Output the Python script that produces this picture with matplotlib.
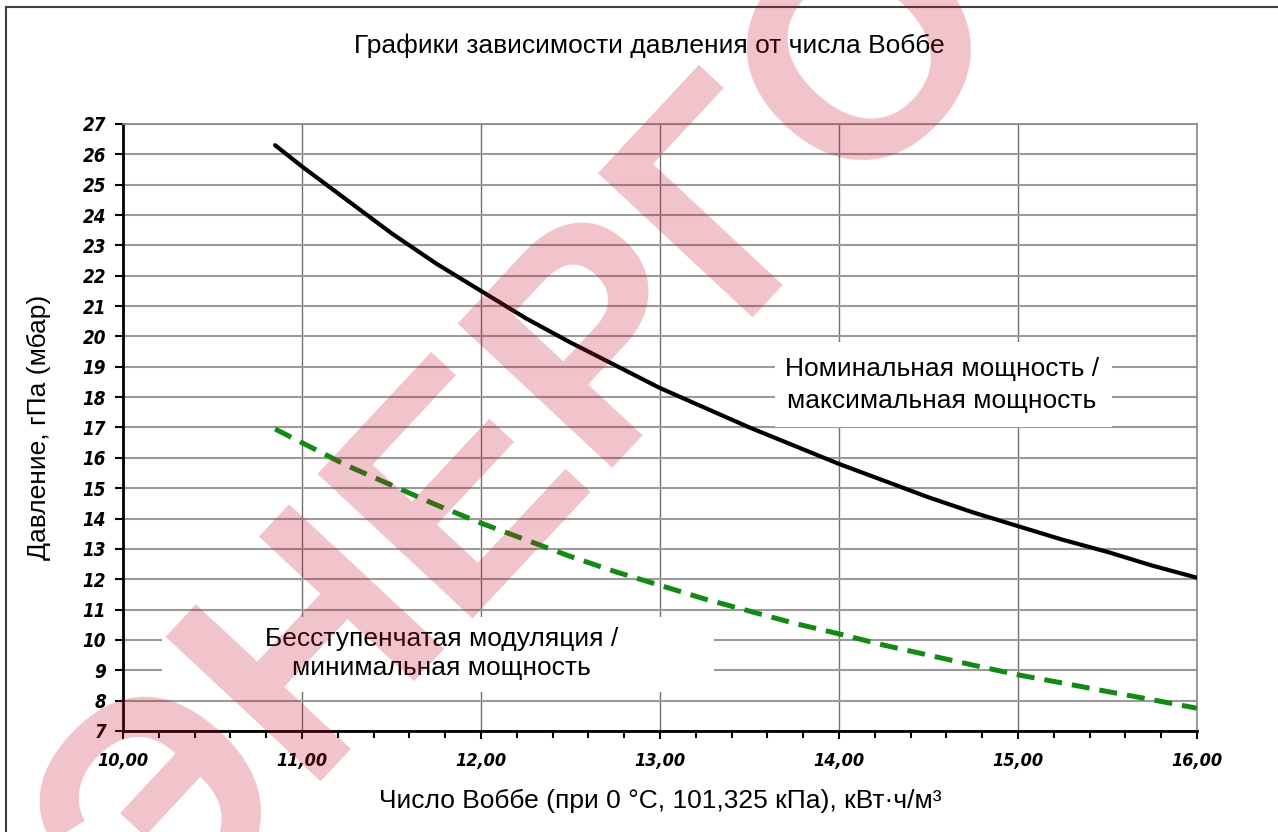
import matplotlib
matplotlib.use('Agg')
import matplotlib.pyplot as plt
from matplotlib.patches import Rectangle
from matplotlib.lines import Line2D
from matplotlib.ticker import MultipleLocator, FuncFormatter

# Wobbe number, kWh/m3
wobbe = [10.85, 11.0, 11.25, 11.5, 11.75, 12.0, 12.25, 12.5, 12.75, 13.0, 13.25,
         13.5, 13.75, 14.0, 14.25, 14.5, 14.75, 15.0, 15.25, 15.5, 15.75, 16.0]
# nominal / maximum power, hPa
p_max = [26.3, 25.6, 24.5, 23.4, 22.4, 21.5, 20.6, 19.8, 19.05, 18.3, 17.65,
         17.0, 16.4, 15.8, 15.25, 14.7, 14.2, 13.75, 13.3, 12.9, 12.45, 12.05]
# stepless modulation / minimum power, hPa
p_min = [16.95, 16.5, 15.75, 15.1, 14.45, 13.85, 13.3, 12.75, 12.25, 11.8, 11.35,
         10.95, 10.55, 10.2, 9.83, 9.5, 9.17, 8.85, 8.58, 8.3, 8.03, 7.75]

label_max = "Номинальная мощность /\nмаксимальная мощность"
label_min = "Бесступенчатая модуляция /\nминимальная мощность"

plt.rcParams['font.family'] = ['Liberation Sans', 'DejaVu Sans']

fig = plt.figure(figsize=(12.78, 8.32), dpi=100)
ax = fig.add_axes([0.0962, 0.1214, 0.8404, 0.7296])

ax.plot(wobbe, p_max, color='black', lw=3, solid_capstyle='round', zorder=4)
ax.plot(wobbe, p_min, color='#138a13', lw=3.6, dashes=(3.6, 2.0), zorder=4)

ax.set_xlim(10, 16)
ax.set_ylim(7, 27)
ax.xaxis.set_major_locator(MultipleLocator(1))
ax.xaxis.set_minor_locator(MultipleLocator(0.2))
ax.yaxis.set_major_locator(MultipleLocator(1))
ax.xaxis.set_major_formatter(FuncFormatter(lambda v, p: f"{v:.2f}".replace('.', ',')))
ax.yaxis.grid(True, which='major', color='#9a9a9a', lw=1.5, zorder=1)
ax.xaxis.grid(True, which='major', color='#707070', lw=1.0, zorder=1)
ax.set_axisbelow(True)

for s in ['top', 'right']:
    ax.spines[s].set_color('#8a8a8a')
    ax.spines[s].set_linewidth(1.2)
for s in ['left', 'bottom']:
    ax.spines[s].set_color('black')
    ax.spines[s].set_linewidth(2)

ax.tick_params(axis='both', which='major', direction='out', length=6, width=1.5, color='black')
ax.tick_params(axis='x', which='minor', direction='out', length=5, width=1.5, color='black')
for lab in ax.get_xticklabels():
    lab.set_family('DejaVu Sans')
    lab.set_stretch('condensed')
    lab.set_weight('bold')
    lab.set_style('italic')
    lab.set_fontsize(13)
for lab in ax.get_yticklabels():
    lab.set_family('DejaVu Sans')
    lab.set_stretch('condensed')
    lab.set_weight('bold')
    lab.set_style('italic')
    lab.set_fontsize(13.5)
ax.tick_params(axis='x', pad=9)
ax.tick_params(axis='y', pad=6)

# white label boxes over the grid
ax.add_patch(Rectangle((13.64, 17.0), 1.885, 2.8, facecolor='white', edgecolor='none', zorder=2))
ax.add_patch(Rectangle((10.22, 8.3), 3.08, 2.45, facecolor='white', edgecolor='none', zorder=2))
ax.text(14.575, 18.4, label_max, ha='center', va='center', fontsize=19,
        linespacing=1.4, zorder=3)
ax.text(11.78, 9.55, label_min, ha='center', va='center', fontsize=19,
        linespacing=1.3, zorder=3)

ax.set_xlabel("Число Воббе (при 0 °C, 101,325 кПа), кВт·ч/м³", fontsize=19, labelpad=14)
ax.set_ylabel("Давление, гПа (мбар)", fontsize=19, labelpad=23)
fig.text(649 / 1278, 1 - 46 / 832, "Графики зависимости давления от числа Воббе",
         ha='center', va='center', fontsize=19)

# frame
fig.add_artist(Line2D([6 / 1278, 6 / 1278], [0, 1 - 7 / 832], transform=fig.transFigure,
                      color='#404040', lw=1.5))
fig.add_artist(Line2D([6 / 1278, 1], [1 - 7 / 832, 1 - 7 / 832], transform=fig.transFigure,
                      color='#404040', lw=1.5))

# watermark
fig.text(528 / 1278, 1 - 433 / 832, "ЭНЕРГО", ha='center', va='center', rotation=47,
         fontsize=222, fontweight='bold', color='#c8102e', alpha=0.25, zorder=10)

fig.savefig('out.png', dpi=100)
